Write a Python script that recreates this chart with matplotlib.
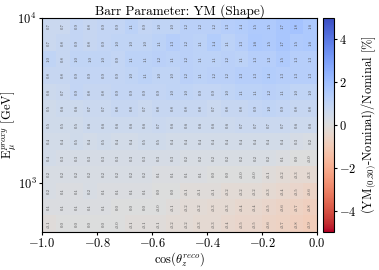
import numpy as np
import matplotlib
matplotlib.use("Agg")
import matplotlib.pyplot as plt

plt.rcParams['font.family'] = 'serif'
plt.rcParams['font.serif'] = ['cmr10', 'DejaVu Serif']
plt.rcParams['mathtext.fontset'] = 'cm'
plt.rcParams['axes.formatter.use_mathtext'] = True

# bins: cos(zenith) and log10(E)
cos_edges = np.linspace(-1.0, 0.0, 21)
log_e_edges = np.linspace(2.7, 4.0, 14)

# percent change per bin, rows listed from highest energy (top) to lowest
row_13 = [0.7, 0.7, 0.9, 0.8, 0.9, 0.9, 1.1, 0.9, 1.0, 1.0, 1.2, 1.2, 1.2, 1.3, 1.4, 1.5, 1.5, 1.7, 1.8, 1.6]
row_12 = [0.7, 0.8, 0.9, 0.8, 0.9, 1.0, 1.0, 1.0, 1.1, 1.3, 1.2, 1.1, 1.4, 1.1, 1.3, 1.6, 1.5, 1.7, 1.5, 1.6]
row_11 = [1.0, 0.8, 1.0, 1.0, 1.0, 0.9, 1.1, 1.1, 1.2, 1.1, 1.2, 1.1, 1.1, 1.2, 1.1, 1.3, 1.3, 1.5, 1.3, 1.3]
row_10 = [0.8, 0.8, 0.9, 0.9, 0.9, 0.9, 1.0, 1.1, 1.0, 1.0, 1.2, 1.1, 1.2, 1.2, 1.3, 1.3, 1.4, 1.3, 1.3, 1.3]
row_09 = [0.6, 0.7, 0.9, 0.8, 0.8, 0.9, 0.9, 0.9, 0.9, 1.0, 1.0, 0.9, 0.9, 1.0, 1.1, 1.1, 1.2, 1.1, 1.0, 1.0]
row_08 = [0.5, 0.6, 0.6, 0.7, 0.7, 0.8, 0.8, 0.7, 0.8, 0.8, 0.8, 0.8, 0.7, 0.8, 0.8, 0.9, 1.0, 0.9, 0.8, 0.8]
row_07 = [0.5, 0.5, 0.5, 0.6, 0.6, 0.6, 0.6, 0.6, 0.7, 0.6, 0.6, 0.6, 0.6, 0.6, 0.7, 0.7, 0.7, 0.7, 0.6, 0.6]
row_06 = [0.4, 0.4, 0.5, 0.4, 0.5, 0.4, 0.4, 0.5, 0.5, 0.4, 0.4, 0.4, 0.4, 0.4, 0.4, 0.4, 0.4, 0.4, 0.3, 0.2]
row_05 = [0.4, 0.3, 0.3, 0.3, 0.3, 0.3, 0.3, 0.3, 0.3, 0.3, 0.2, 0.2, 0.2, 0.2, 0.2, 0.2, 0.2, 0.1, 0.0, -0.0]
row_04 = [0.2, 0.2, 0.2, 0.2, 0.2, 0.2, 0.2, 0.2, 0.1, 0.1, 0.1, 0.1, 0.0, 0.0, -0.0, -0.0, -0.1, -0.2, -0.3, -0.3]
row_03 = [0.2, 0.1, 0.1, 0.2, 0.1, 0.1, 0.1, 0.1, 0.0, 0.0, -0.1, -0.1, -0.1, -0.2, -0.2, -0.2, -0.3, -0.4, -0.5, -0.6]
row_02 = [0.1, 0.1, 0.1, 0.1, 0.1, 0.0, 0.0, 0.0, -0.0, -0.1, -0.2, -0.2, -0.3, -0.3, -0.4, -0.4, -0.5, -0.6, -0.7, -0.8]
row_01 = [-0.1, 0.0, 0.0, 0.0, 0.0, -0.0, -0.1, -0.1, -0.1, -0.2, -0.2, -0.3, -0.3, -0.4, -0.5, -0.5, -0.6, -0.7, -0.8, -0.9]

rows_top_down = [row_13, row_12, row_11, row_10, row_09, row_08, row_07,
                 row_06, row_05, row_04, row_03, row_02, row_01]
values = np.array(rows_top_down[::-1])  # bottom row first for pcolormesh

e_edges = 10 ** log_e_edges

fig = plt.figure(figsize=(3.79, 2.70), dpi=100)
ax = fig.add_axes([0.111, 0.141, 0.726, 0.793])
cax = fig.add_axes([0.851, 0.141, 0.030, 0.793])

mesh = ax.pcolormesh(cos_edges, e_edges, values, cmap='coolwarm_r', vmin=-5, vmax=5)
ax.set_yscale('log')
ax.set_xlim(-1.0, 0.0)
ax.set_ylim(e_edges[0], e_edges[-1])
ax.yaxis.set_minor_locator(matplotlib.ticker.NullLocator())
ax.set_xticks([-1.0, -0.8, -0.6, -0.4, -0.2, 0.0])

# cell annotations
x_mid = 0.5 * (cos_edges[:-1] + cos_edges[1:])
y_mid = np.sqrt(e_edges[:-1] * e_edges[1:])
for i, y in enumerate(y_mid):
    for j, x in enumerate(x_mid):
        v = values[i, j]
        ax.text(x, y, f"{v:.1f}", ha='center', va='center', rotation=90,
                fontsize=3.4, color='#4d4d4d')

ax.set_title("Barr Parameter: YM (Shape)", fontsize=9.5, pad=2)
ax.set_xlabel(r"$\cos(\theta_z^{reco})$", fontsize=9, labelpad=0)
ax.set_ylabel(r"$\mathrm{E}_\mu^{proxy}$ [GeV]", fontsize=9)
ax.yaxis.set_label_coords(-0.085, 0.5)
ax.tick_params(labelsize=9, length=2, pad=2)

cb = fig.colorbar(mesh, cax=cax)
cb.set_ticks([-4, -2, 0, 2, 4])
cb.ax.tick_params(labelsize=9, length=2, pad=2)
cb.set_label(r"$(\mathrm{YM}_{(0.30)}$-Nominal$)/$Nominal [%]", fontsize=9, labelpad=2)

fig.savefig("out.png", dpi=100)
